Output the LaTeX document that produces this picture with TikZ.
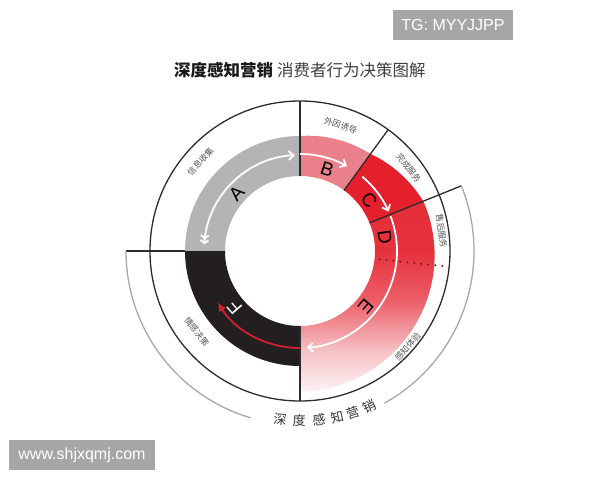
\documentclass[tikz,border=0pt]{standalone}
\usepackage{fontspec}
\setmainfont{Liberation Sans}
\newfontfamily\cjk{Noto Sans CJK SC}
\usetikzlibrary{arrows.meta}
\definecolor{grayA}{HTML}{B4B4B4}
\definecolor{pinkB}{HTML}{EA808A}
\definecolor{redC}{HTML}{E3202B}
\definecolor{blackF}{HTML}{231F20}
\definecolor{lineK}{HTML}{2B2B2B}
\definecolor{arcG}{HTML}{A8A8A8}
\definecolor{txtG}{HTML}{555555}
\definecolor{redArrow}{HTML}{D41F2D}
\definecolor{dotR}{HTML}{7A1519}
\definecolor{wmG}{HTML}{A6A6A6}
\definecolor{fA}{HTML}{FDF2F3}
\definecolor{fB}{HTML}{F5C0C4}
\definecolor{fC}{HTML}{EC5E68}
\definecolor{fD}{HTML}{E5323C}
\definecolor{fE}{HTML}{E42A34}
\pgfdeclareverticalshading{redfade}{100bp}{color(0bp)=(fA); color(25bp)=(fA); color(36bp)=(fB); color(49bp)=(fC); color(62bp)=(fD); color(100bp)=(fE)}
\tikzset{
  sep/.style={lineK, line width=1.3pt},
  garc/.style={arcG, line width=1.3pt},
  warrow/.style={white, line width=1.8pt},
  letter/.style={font=\fontsize{19}{19}\selectfont, text=black, inner sep=0pt},
  lab/.style={font=\cjk\fontsize{8.5}{9}\selectfont, text=txtG, inner sep=0pt},
  btxt/.style={font=\cjk\fontsize{13}{13}\selectfont, text=black!80, inner sep=0pt},
  wm/.style={fill=wmG, text=white, font=\fontsize{16}{18}\selectfont, inner sep=0pt}
}
\begin{document}
\begin{tikzpicture}[x=1pt,y=1pt]
\useasboundingbox (-300,-229) rectangle (300,251);
\fill[white] (-300,-229) rectangle (300,251);

% title
\node[inner sep=0pt] (title) at (0,180.5) {\cjk\fontsize{16.5}{18}\selectfont\color{black!90}\bfseries 深度感知营销\hspace{4pt}\mdseries\color{black!75}消费者行为决策图解};

% ring segments
\fill[grayA] (90:115) arc[start angle=90,end angle=180,radius=115] -- (180:75) arc[start angle=180,end angle=90,radius=75] -- cycle;
\fill[blackF] (180:115) arc[start angle=180,end angle=270,radius=115] -- (270:75) arc[start angle=270,end angle=180,radius=75] -- cycle;
\fill[pinkB] plot[domain=90:54,samples=20] (\x:{115+(90-\x)*5/36}) -- (54:75) arc[start angle=54,end angle=90,radius=75] -- cycle;
\fill[redC] plot[domain=54:22,samples=20] (\x:{120+(54-\x)*13/32}) -- (22:75) arc[start angle=22,end angle=54,radius=75] -- cycle;
\shade[shading=redfade] plot[domain=22:-90,samples=40] (\x:{133+(22-\x)*8/112}) -- (-90:75) arc[start angle=-90,end angle=22,radius=75] -- cycle;

% dotted line
\draw[dotR, line width=2.2pt, line cap=round, dash pattern=on 0pt off 7pt] (-6:80) -- (-6:150);

% separators and circles
\draw[sep] (0,0) circle[radius=150];
\draw[sep] (90:75) -- (90:150);
\draw[sep] (54:75) -- (54:150);
\draw[sep] (22:75) -- (22:174);
\draw[sep] (-90:75) -- (-90:150);
\draw[sep] (180:115) -- (180:174);
\draw[garc] (180:174) arc[start angle=180,end angle=253.5,radius=174];
\draw[garc] (-61:174) arc[start angle=-61,end angle=22,radius=174];

% arrows
\draw[warrow, {Straight Barb[length=3pt,width=8pt]Straight Barb[length=3pt,width=8pt]}-{Straight Barb[length=5pt,width=9pt]}] (176:96) arc[start angle=176,end angle=93,radius=96];
\draw[warrow, -{Straight Barb[length=5pt,width=9pt]}] (90:97) arc[start angle=90,end angle=61,radius=97];
\draw[warrow, -{Straight Barb[length=5pt,width=9pt]}] (50:97) arc[start angle=50,end angle=24,radius=97];
\draw[warrow, -{Straight Barb[length=5pt,width=9pt]}] (21:97) arc[start angle=21,end angle=-86,radius=97];
\draw[redArrow, line width=1.8pt, -{Latex[length=9pt,width=8pt]}] (-90:97) arc[start angle=-90,end angle=-148,radius=97];

% letters
\node[letter, rotate=47.6] (la) at (137.6:86) {A};
\node[letter, rotate=-18.5] (lb) at (71.5:86) {B};
\node[letter, rotate=-53.6] (lc) at (36.4:86) {C};
\node[letter, rotate=-81] (ld) at (9:86) {D};
\node[letter, rotate=-130] (le) at (-40:86) {E};
\node[letter, rotate=130.6, text=white] (lf) at (220.6:86) {F};

% labels
\node[lab, rotate=48] (l1) at (138:134) {信息收集};
\node[lab, rotate=-18] (l2) at (72:132) {外因诱导};
\node[lab, rotate=-52.6] (l3) at (37.4:137) {完成服务};
\node[lab, rotate=-82] (l4) at (8:143) {售后服务};
\node[lab, rotate=48.4] (l5) at (-41.6:144) {感知体验};
\node[lab, rotate=-52] (l6) at (218:131) {情感决策};

% bottom curved text
\node[btxt, rotate=-6.7] (b1) at (-96.7:170) {深};
\node[btxt, rotate=-0.3] (b2) at (-90.3:170) {度};
\node[btxt, rotate=6.4] (b3) at (-83.6:170) {感};
\node[btxt, rotate=12.6] (b4) at (-77.4:170) {知};
\node[btxt, rotate=18.3] (b5) at (-71.7:170) {营};
\node[btxt, rotate=24.1] (b6) at (-65.9:170) {销};

% watermarks
\node[wm, minimum width=120pt, minimum height=30pt] (tg) at (153,226) {TG: MYYJJPP};
\node[wm, minimum width=146pt, minimum height=30pt] (www) at (-218,-204) {www.shjxqmj.com};
\end{tikzpicture}
\end{document}
